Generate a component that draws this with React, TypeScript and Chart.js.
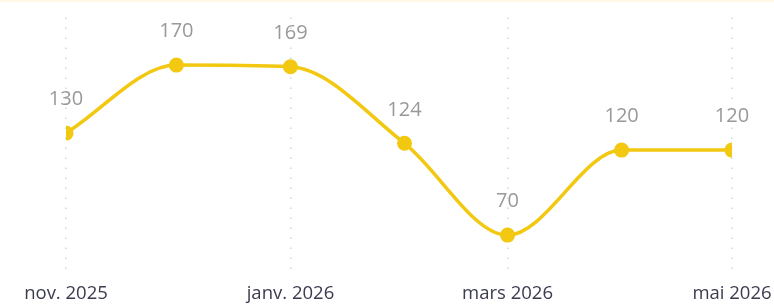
import React, { useEffect, useRef } from "react";
import { Chart, registerables } from "chart.js";

Chart.register(...registerables);

const MONTHS = ["2025-11-01", "2025-12-01", "2026-01-01", "2026-02-01", "2026-03-01", "2026-04-01", "2026-05-01"];
const VALUES = [130, 170, 169, 124, 70, 120, 120];
const TICK_MONTHS = ["2025-11-01", "2026-01-01", "2026-03-01", "2026-05-01"];
const TICK_LABELS = ["nov. 2025", "janv. 2026", "mars 2026", "mai 2026"];

const DAY = 86400000;
const toDay = (s: string) => Math.round((Date.parse(s) - Date.parse(MONTHS[0])) / DAY);

const LINE_COLOR = "#F2C811";

export default function App() {
  const ref = useRef<HTMLCanvasElement | null>(null);

  useEffect(() => {
    if (!ref.current) return;
    const points = MONTHS.map((m, i) => ({ x: toDay(m), y: VALUES[i] }));
    const tickDays = TICK_MONTHS.map(toDay);

    const labelPlugin = {
      id: "valueLabels",
      afterDatasetsDraw(chart: any) {
        const ctx = chart.ctx;
        const meta = chart.getDatasetMeta(0);
        ctx.save();
        ctx.font = "20px 'Open Sans', sans-serif";
        ctx.fillStyle = "#999999";
        ctx.textAlign = "center";
        ctx.textBaseline = "middle";
        meta.data.forEach((pt: any, i: number) => {
          ctx.fillText(String(VALUES[i]), pt.x, pt.y - 33.5);
        });
        ctx.restore();
      },
    };

    const topLine = {
      id: "topLine",
      beforeDraw(chart: any) {
        const ctx = chart.ctx;
        ctx.save();
        ctx.fillStyle = "#FFF7E6";
        ctx.fillRect(0, 0, chart.width, 2);
        ctx.restore();
      },
    };

    const chart = new Chart(ref.current, {
      type: "line",
      data: {
        datasets: [
          {
            data: points,
            borderColor: LINE_COLOR,
            backgroundColor: LINE_COLOR,
            borderWidth: 3.5,
            pointRadius: 7.5,
            pointBackgroundColor: LINE_COLOR,
            pointBorderWidth: 0,
            cubicInterpolationMode: "monotone",
          },
        ],
      },
      options: {
        animation: false,
        responsive: false,
        layout: { padding: { left: 66, right: 42, top: 17.5, bottom: 0 } },
        plugins: { legend: { display: false }, tooltip: { enabled: false } },
        scales: {
          x: {
            type: "linear",
            min: 0,
            max: toDay(MONTHS[MONTHS.length - 1]),
            afterBuildTicks: (axis: any) => {
              axis.ticks = tickDays.map((v) => ({ value: v }));
            },
            afterFit: (axis: any) => {
              axis.height = 33.5;
              axis.paddingLeft = 0;
              axis.paddingRight = 0;
            },
            ticks: {
              autoSkip: false,
              maxRotation: 0,
              padding: 10.5,
              color: "#3b3b50",
              font: { family: "'Open Sans', sans-serif", size: 18.5 },
              callback: (v: any) => {
                const idx = tickDays.indexOf(Number(v));
                return idx >= 0 ? TICK_LABELS[idx] : "";
              },
            },
            grid: {
              drawTicks: false,
              color: "#c3dbe8",
              lineWidth: 1.5,
            },
            border: { display: false, dash: [1.5, 8.5] },
          },
          y: {
            display: false,
            min: 48,
            max: 198,
          },
        },
      },
      plugins: [labelPlugin, topLine],
    });
    return () => chart.destroy();
  }, []);

  return (
    <div style={{ position: "absolute", left: 0, top: 0, width: 774, height: 306, background: "#fff" }}>
      <canvas ref={ref} width={774} height={306} style={{ display: "block" }} />
    </div>
  );
}
